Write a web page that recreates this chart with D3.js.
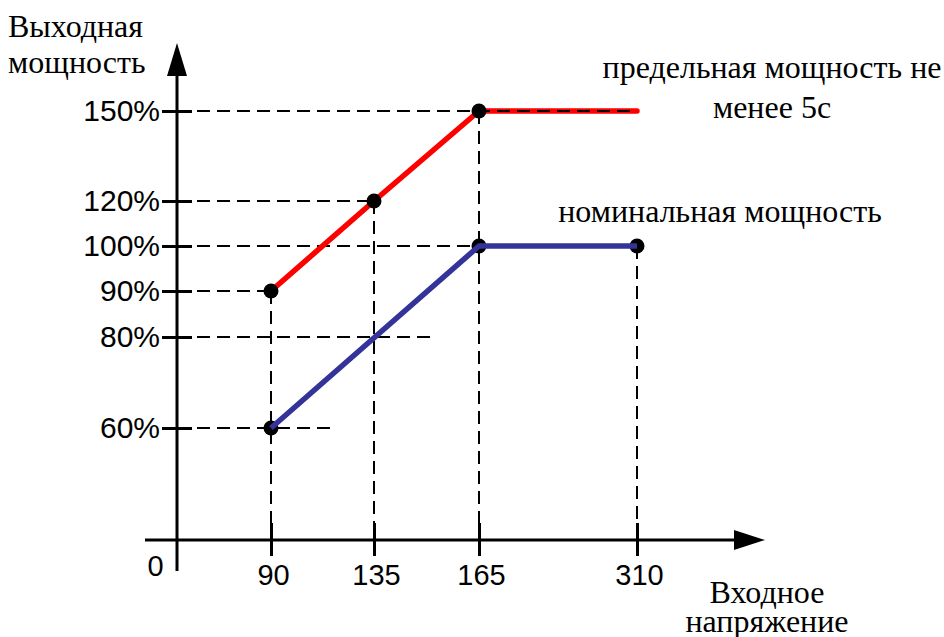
<!DOCTYPE html>
<html><head><meta charset="utf-8">
<script src="https://cdn.jsdelivr.net/npm/d3@7"></script>
<style>html,body{margin:0;padding:0;background:#fff;}svg{display:block;}</style>
</head><body>
<svg id="c" width="944" height="637"></svg>
<script>
// ---- data ----
const xTicks = [0, 90, 135, 165, 310];
const yTicks = [60, 80, 90, 100, 120, 150];
const yTickLabels = ["60%", "80%", "90%", "100%", "120%", "150%"];
const peakVoltage = [90, 135, 165, 310];
const peakPower = [90, 120, 150, 150];
const nominalVoltage = [90, 165, 310];
const nominalPower = [60, 100, 100];
const dotVoltage = [90, 135, 165, 90, 165, 310];
const dotPower = [90, 120, 150, 60, 100, 100];
// horizontal guide: power level -> voltage where guide ends
const hGuidePower = [60, 80, 90, 100, 120, 150];
const hGuideEnd = [117, 152, 90, 165, 135, 310];
// vertical guide: voltage -> power where guide starts
const vGuideVoltage = [90, 135, 165, 310];
const vGuideTop = [90, 120, 150, 100];

const svg = d3.select("#c");
const x = d3.scaleLinear().domain([0, 90, 135, 165, 310]).range([177, 271, 374, 479, 637]);
const y = d3.scaleLinear().domain([0, 60, 80, 90, 100, 120, 150]).range([540, 428, 337, 291, 246, 201, 111]);

const dash = "13,7";
const gGuides = svg.append("g").attr("stroke", "#000").attr("stroke-width", 2).attr("stroke-dasharray", dash).attr("fill", "none");
hGuidePower.forEach((p, i) => {
  if (p === 150) return;
  gGuides.append("line").attr("x1", x(0)).attr("x2", x(hGuideEnd[i])).attr("y1", y(p)).attr("y2", y(p));
});
vGuideVoltage.forEach((v, i) => {
  gGuides.append("line").attr("x1", x(v)).attr("x2", x(v)).attr("y1", y(vGuideTop[i])).attr("y2", y(0));
});

// axes
const yAxis = d3.axisLeft(y).tickValues(yTicks).tickSize(15).tickPadding(2).tickFormat((d, i) => yTickLabels[i]);
const gy = svg.append("g").attr("transform", `translate(${x(0)},0)`).call(yAxis);
gy.select(".domain").remove();
gy.selectAll(".tick line").attr("x1", 15).attr("x2", -15).attr("stroke", "#000").attr("stroke-width", 3);
gy.selectAll(".tick text").attr("font-family", "'Liberation Sans', Arial, sans-serif").attr("font-size", 30).attr("fill", "#000");

const xAxis = d3.axisBottom(x).tickValues(xTicks).tickSize(16).tickPadding(9).tickFormat(d3.format("d"));
const gx = svg.append("g").attr("transform", `translate(0,${y(0)})`).call(xAxis);
gx.select(".domain").remove();
gx.selectAll(".tick line").attr("y1", -17).attr("stroke", "#000").attr("stroke-width", 3)
  .attr("display", d => d === 0 ? "none" : null);
gx.selectAll(".tick text").attr("font-family", "'Liberation Sans', Arial, sans-serif").attr("font-size", 29).attr("fill", "#000")
  .attr("dx", d => d === 0 ? -22 : 2).attr("y", d => d === 0 ? 15 : 24);

// axis lines with arrows
svg.append("line").attr("x1", x(0)).attr("x2", x(0)).attr("y1", 74).attr("y2", 571).attr("stroke", "#000").attr("stroke-width", 3);
svg.append("line").attr("x1", 145).attr("x2", 737).attr("y1", y(0)).attr("y2", y(0)).attr("stroke", "#000").attr("stroke-width", 3);
svg.append("path").attr("d", `M${x(0)},43 L${x(0) + 10},76 L${x(0) - 10},76 Z`).attr("fill", "#000");
svg.append("path").attr("d", `M765,${y(0)} L734,${y(0) - 10} L734,${y(0) + 10} Z`).attr("fill", "#000");

const line = d3.line().x(d => x(d[0])).y(d => y(d[1]));

// red peak line
svg.append("path").datum(peakVoltage.map((v, i) => [v, peakPower[i]]))
  .attr("d", line).attr("fill", "none").attr("stroke", "#ff0000").attr("stroke-width", 5.5)
  .attr("stroke-linecap", "round").attr("stroke-linejoin", "round");

// dots
svg.append("g").selectAll("circle").data(dotVoltage.map((v, i) => [v, dotPower[i]])).join("circle")
  .attr("cx", d => x(d[0])).attr("cy", d => y(d[1])).attr("r", 7.5).attr("fill", "#000");

// blue nominal line
svg.append("path").datum(nominalVoltage.map((v, i) => [v, nominalPower[i]]))
  .attr("d", line).attr("fill", "none").attr("stroke", "#333399").attr("stroke-width", 5.5)
  .attr("stroke-linecap", "butt").attr("stroke-linejoin", "round");

// 150% guide on top
svg.append("line").attr("x1", x(0)).attr("x2", x(310)).attr("y1", y(150)).attr("y2", y(150))
  .attr("stroke", "#000").attr("stroke-width", 2).attr("stroke-dasharray", dash);

// texts
const serif = "'Liberation Serif', 'Times New Roman', serif";
function txt(s, tx, ty, anchor) {
  svg.append("text").attr("x", tx).attr("y", ty).attr("text-anchor", anchor || "start")
    .attr("font-family", serif).attr("font-size", 32).attr("fill", "#000").text(s);
}
txt("Выходная", 8, 37);
txt("мощность", 8, 73);
txt("предельная мощность не", 772, 78, "middle");
txt("менее 5с", 772, 118, "middle");
txt("номинальная мощность", 720, 222, "middle");
txt("Входное", 767, 603, "middle");
txt("напряжение", 767, 632, "middle");
</script>
</body></html>
